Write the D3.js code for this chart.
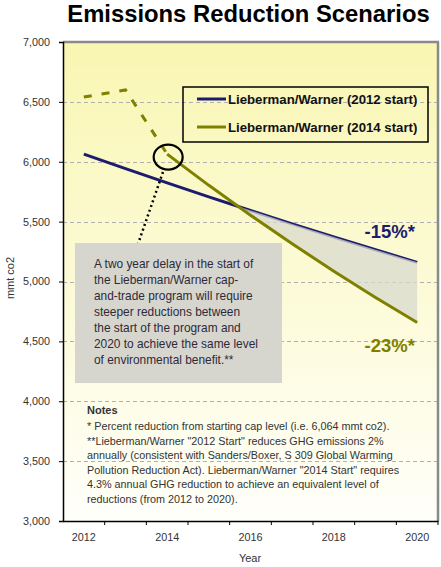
<!DOCTYPE html>
<html><head><meta charset="utf-8">
<script src="https://cdn.jsdelivr.net/npm/d3@7"></script>
<style>body{margin:0;background:#fff}svg{display:block}text{font-family:Arial,"Liberation Sans",sans-serif}</style>
</head><body>
<script>
const years = [2012,2013,2014,2015,2016,2017,2018,2019,2020];
const xLabelYears = [2012,2014,2016,2018,2020];
const yTicks = [3000,3500,4000,4500,5000,5500,6000,6500,7000];
const start2012 = [6064,5943,5824,5707,5593,5481,5372,5265,5160];
const start2014Pre = [6540,6600,6064];          // 2012-2014 (dashed)
const start2014 = [null,null,6064,5803,5554,5315,5086,4867,4658];
const seriesNames = ["Lieberman/Warner (2012 start)","Lieberman/Warner (2014 start)"];
const seriesColors = ["#1c1c6e","#808000"];
const pctLabels = ["-15%*","-23%*"];
const calloutText = ["A two year delay in the start of","the Lieberman/Warner cap-","and-trade program will require","steeper reductions between","the start of the program and","2020 to achieve the same level","of environmental benefit.**"];
const notesTitle = "Notes";
const notesText = ["* Percent reduction from starting cap level (i.e. 6,064 mmt co2).","**Lieberman/Warner \"2012 Start\" reduces GHG emissions 2%","annually (consistent with Sanders/Boxer, S 309 Global Warming","Pollution Reduction Act). Lieberman/Warner \"2014 Start\" requires","4.3% annual GHG reduction to achieve an equivalent level of","reductions (from 2012 to 2020)."];

const W=441,H=567;
const svg=d3.select("body").append("svg").attr("width",W).attr("height",H);
const L=63,R=438,T=42,B=521;
const x=d3.scaleBand().domain(years).range([L,R]);
const cx=d=>x(d)+x.bandwidth()/2;
const y=d3.scaleLinear().domain([3000,7000]).range([B,T]);

const defs=svg.append("defs");
const g=defs.append("linearGradient").attr("id","bg").attr("x1",0).attr("y1",0).attr("x2",0).attr("y2",1);
g.append("stop").attr("offset","0%").attr("stop-color","#f9f6b2");
g.append("stop").attr("offset","100%").attr("stop-color","#fffffa");
svg.append("rect").attr("x",L).attr("y",T).attr("width",R-L).attr("height",B-T).attr("fill","url(#bg)");

// title
svg.append("text").attr("x",248.5).attr("y",22).attr("text-anchor","middle").attr("font-size",23.8).attr("font-weight","bold").attr("fill","#000").text("Emissions Reduction Scenarios");

// gridlines
svg.append("g").selectAll("line").data(yTicks.filter(v=>v>3000&&v<7000)).join("line")
 .attr("x1",L).attr("x2",R).attr("y1",d=>Math.round(y(d))+0.5).attr("y2",d=>Math.round(y(d))+0.5)
 .attr("stroke","#b0b0b0").attr("stroke-dasharray","4,3");

// plot borders top/right
svg.append("line").attr("x1",L).attr("x2",R+1).attr("y1",T).attr("y2",T).attr("stroke","#8a8a8a").attr("stroke-width",2.5);
svg.append("line").attr("x1",R).attr("x2",R).attr("y1",T).attr("y2",B).attr("stroke","#8a8a8a").attr("stroke-width",2.5);

// y axis
const ya=svg.append("g").attr("transform",`translate(${L},0)`)
 .call(d3.axisLeft(y).tickValues(yTicks).tickFormat(d3.format(",")).tickSize(4).tickPadding(9));
ya.select(".domain").attr("stroke","#000").attr("stroke-width",1.5);
ya.selectAll(".tick line").attr("stroke","#000");
ya.selectAll("text").attr("font-size",10.8).attr("fill","#333").attr("font-family","Arial,'Liberation Sans',sans-serif");

// x axis
const xa=svg.append("g").attr("transform",`translate(0,${B})`)
 .call(d3.axisBottom(x).tickSize(0).tickPadding(12).tickFormat(d=>xLabelYears.includes(d)?d:""));
xa.select(".domain").attr("stroke","#000").attr("stroke-width",1.5);
xa.selectAll("text").attr("font-size",10.8).attr("fill","#333").attr("font-family","Arial,'Liberation Sans',sans-serif");
svg.append("g").selectAll("line").data(years.map(d=>x(d)).concat([x.range()[1]]).slice(1)).join("line")
 .attr("x1",d=>d).attr("x2",d=>d).attr("y1",B).attr("y2",B+4).attr("stroke","#000");

svg.append("text").attr("x",250).attr("y",562).attr("text-anchor","middle").attr("font-size",11).attr("fill","#333").text("Year");
svg.append("text").attr("transform","translate(14,278) rotate(-90)").attr("text-anchor","middle").attr("font-size",11).attr("fill","#333").text("mmt co2");

// blue line
const line=d3.line().defined(d=>d[1]!=null).x(d=>cx(d[0])).y(d=>y(d[1]));
svg.append("path").attr("d",line(years.map((yr,i)=>[yr,start2012[i]]))).attr("fill","none").attr("stroke",seriesColors[0]).attr("stroke-width",3);

// shaded region between lines after they cross
let crossing=null;
for(let i=0;i<years.length-1;i++){
  const a=start2014[i],b=start2014[i+1];
  if(a==null||b==null) continue;
  const d0=a-start2012[i],d1=b-start2012[i+1];
  if(d0>0&&d1<=0){const t=d0/(d0-d1);crossing=[cx(years[i])+t*(cx(years[i+1])-cx(years[i])), y(start2012[i]+t*(start2012[i+1]-start2012[i]))];}
}
const upper=[],lower=[];
years.forEach((yr,i)=>{ if(start2014[i]!=null && start2014[i]<start2012[i]){upper.push([cx(yr),y(start2012[i])]);lower.push([cx(yr),y(start2014[i])]);} });
const poly=[crossing].concat(upper).concat(lower.reverse());
svg.append("path").attr("d","M"+poly.map(p=>p.join(",")).join("L")+"Z").attr("fill","#d9d9cf").attr("fill-opacity",0.75);

// olive lines
svg.append("path").attr("d",line(years.slice(0,3).map((yr,i)=>[yr,start2014Pre[i]]))).attr("fill","none").attr("stroke",seriesColors[1]).attr("stroke-width",3).attr("stroke-dasharray","8,10");
svg.append("path").attr("d",line(years.map((yr,i)=>[yr,start2014[i]]))).attr("fill","none").attr("stroke",seriesColors[1]).attr("stroke-width",3);

// percent labels
svg.append("text").attr("x",415).attr("y",238).attr("text-anchor","end").attr("font-size",18.5).attr("font-weight","bold").attr("fill","#1c1c6e").text(pctLabels[0]);
svg.append("text").attr("x",415).attr("y",352).attr("text-anchor","end").attr("font-size",18.5).attr("font-weight","bold").attr("fill","#808000").text(pctLabels[1]);

// circle + dotted pointer
const c0=[cx(2014),y(6064)];
svg.append("ellipse").attr("cx",c0[0]+1).attr("cy",c0[1]+3).attr("rx",14.5).attr("ry",12.5).attr("fill","none").attr("stroke","#000").attr("stroke-width",2.2);
svg.append("line").attr("x1",163).attr("y1",172).attr("x2",138).attr("y2",244).attr("stroke","#000").attr("stroke-width",2.5).attr("stroke-dasharray","2,3");

// callout box
svg.append("rect").attr("x",75).attr("y",243).attr("width",207).attr("height",140).attr("fill","#d6d6ce");
svg.append("g").selectAll("text").data(calloutText).join("text")
 .attr("x",94).attr("y",(d,i)=>268+i*16).attr("font-size",11.9).attr("fill","#2e2a3a").text(d=>d);

// legend
const lg=svg.append("g");
lg.append("rect").attr("x",183).attr("y",87).attr("width",245).attr("height",55).attr("fill","none").attr("stroke","#000").attr("stroke-width",1.5);
seriesNames.forEach((n,i)=>{
  const yy=99+i*28;
  lg.append("line").attr("x1",197).attr("x2",226).attr("y1",yy).attr("y2",yy).attr("stroke",seriesColors[i]).attr("stroke-width",3);
  lg.append("text").attr("x",228).attr("y",yy+4.5).attr("font-size",13.2).attr("font-weight","bold").attr("fill","#111").text(n);
});

// notes
svg.append("text").attr("x",87).attr("y",414).attr("font-size",11).attr("font-weight","bold").attr("fill","#333").text(notesTitle);
svg.append("g").selectAll("text").data(notesText).join("text")
 .attr("x",87).attr("y",(d,i)=>430+i*14.5).attr("font-size",10.8).attr("fill","#333").text(d=>d);
</script>
</body></html>
